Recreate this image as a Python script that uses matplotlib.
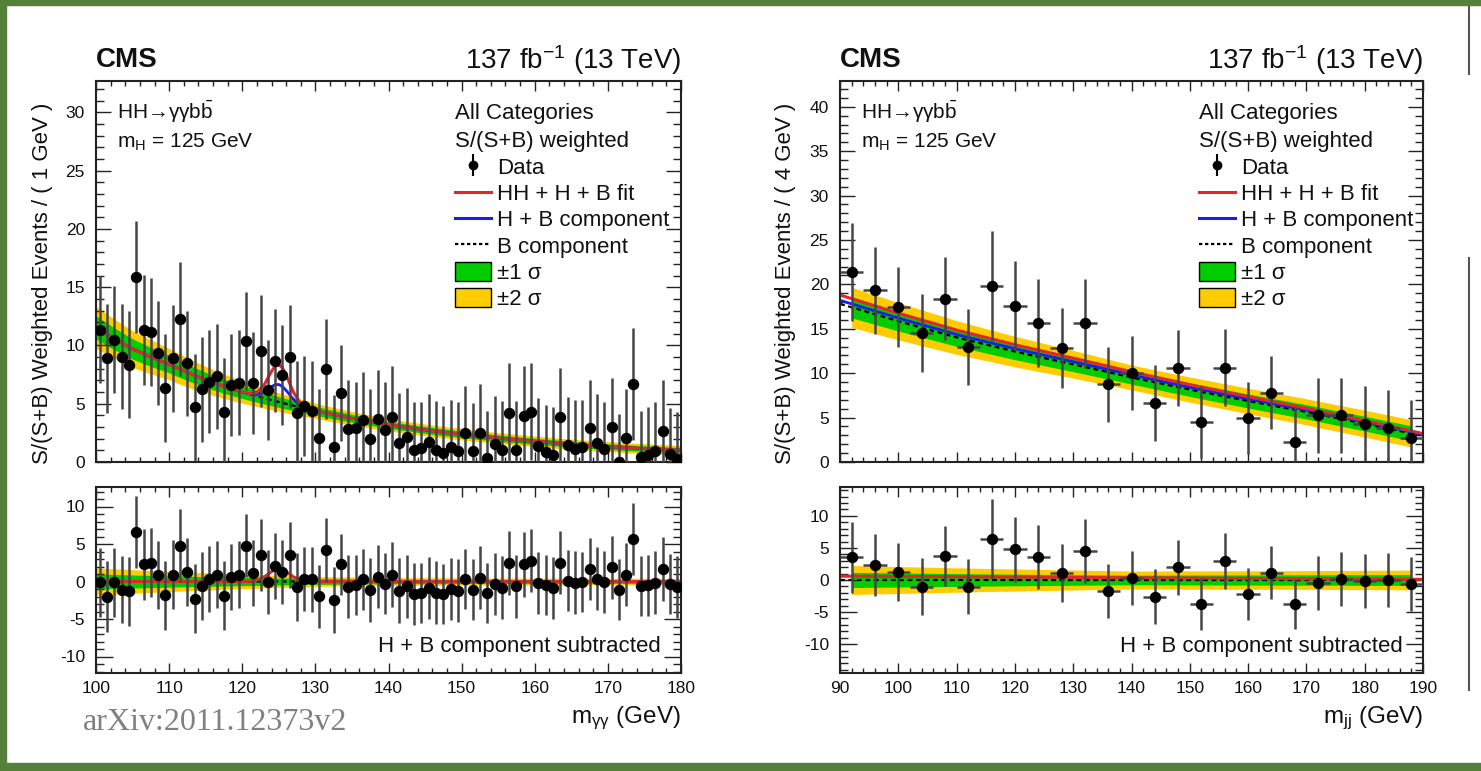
import numpy as np
import matplotlib
matplotlib.use("Agg")
import matplotlib.pyplot as plt
from matplotlib.ticker import MultipleLocator
from matplotlib.patches import Patch, Rectangle
from matplotlib.lines import Line2D

plt.rcParams['font.family'] = ['Liberation Sans', 'DejaVu Sans']
plt.rcParams['mathtext.fontset'] = 'custom'
plt.rcParams['mathtext.rm'] = 'Liberation Sans'
plt.rcParams['mathtext.it'] = 'Liberation Sans:italic'
plt.rcParams['mathtext.bf'] = 'Liberation Sans:bold'
plt.rcParams['axes.unicode_minus'] = False

# ---------------- data: m_gamma_gamma (left) ----------------
mgg_centers = np.arange(100.5, 180.0, 1.0)
mgg_data = [11.35, 8.9, 10.5, 9.05, 8.34, 15.9, 11.35, 11.15, 9.35, 6.35,
            8.9, 12.27, 8.48, 4.7, 6.25, 6.9, 7.34, 4.33, 6.6, 6.8,
            10.4, 6.8, 9.5, 6.2, 8.7, 7.5, 9.05, 4.2, 4.8, 4.4,
            2.03, 7.97, 1.32, 5.9, 2.8, 2.9, 3.6, 2.0, 3.66, 2.75,
            3.9, 1.6, 2.12, 1.03, 1.17, 1.75, 1.03, 0.8, 1.26, 0.97,
            2.52, 0.97, 2.52, 0.37, 1.55, 1.03, 4.18, 1.03, 3.95, 4.33,
            1.38, 0.89, 0.6, 3.84, 1.46, 1.09, 1.32, 2.9, 1.6, 1.09,
            3.04, 0.03, 2.03, 6.68, 0.4, 0.6, 0.95, 2.7, 0.66, 0.23]
mgg_err = [4.6, 4.7, 4.6, 4.5, 4.6, 4.8, 4.7, 4.6, 4.5, 4.6,
           4.6, 4.9, 4.5, 4.6, 4.5, 4.4, 4.5, 4.6, 4.4, 4.5,
           4.2, 4.4, 4.8, 4.3, 4.4, 4.3, 4.4, 4.5, 4.3, 4.3,
           4.2, 4.3, 4.4, 4.1, 4.2, 4.0, 4.1, 4.3, 4.2, 4.1,
           4.3, 4.3, 4.2, 4.1, 4.0, 4.1, 4.2, 4.0, 4.1, 4.2,
           4.0, 4.1, 4.2, 4.0, 4.1, 4.2, 4.3, 4.2, 4.3, 4.2,
           4.1, 4.0, 4.1, 4.2, 4.1, 4.2, 4.0, 4.1, 4.2, 4.1,
           4.2, 4.1, 4.2, 4.8, 4.0, 4.1, 4.2, 4.3, 4.0, 4.1]
mgg_resid = [-0.1, -2.0, -0.1, -1.07, -1.3, 6.6, 2.27, 2.5, 0.85, -1.82,
             0.93, 4.8, 1.24, -2.3, -0.62, 0.27, 0.93, -1.87, 0.62, 0.93,
             4.8, 1.15, 3.6, -0.05, 2.13, 1.24, 3.47, -0.7, 0.36, 0.27,
             -1.96, 4.18, -2.5, 2.27, -0.7, -0.53, 0.27, -1.16, 0.62, -0.27,
             0.93, -1.2, -0.62, -1.64, -1.51, -0.84, -1.51, -1.73, -0.98, -1.2,
             0.36, -1.07, 0.49, -1.51, -0.31, -0.84, 2.49, -0.62, 2.27, 2.8,
             -0.18, -0.53, -0.84, 2.49, 0.13, -0.18, -0.04, 1.69, 0.36, -0.09,
             1.91, -1.07, 0.93, 5.69, -0.62, -0.53, -0.18, 1.69, -0.27, -0.71]

# fit curves (left)
mgg_knots = [100, 105, 110, 115, 120, 125, 130, 135, 140, 145, 150, 155, 160, 165, 170, 175, 180]
mgg_bkg = [11.55, 9.7, 8.4, 7.05, 6.0, 5.15, 4.4, 3.75, 3.2, 2.75, 2.38, 2.05, 1.78, 1.52, 1.32, 1.15, 1.0]
peak_x = [120, 121, 122, 123, 123.5, 124, 124.5, 125, 125.5, 126, 126.5, 127, 128, 129, 130]
h_peak = [0, 0.03, 0.15, 0.54, 0.84, 1.16, 1.41, 1.5, 1.41, 1.16, 0.84, 0.54, 0.15, 0.03, 0]
hh_peak = [0, 0.03, 0.17, 0.61, 0.96, 1.32, 1.59, 1.7, 1.59, 1.32, 0.96, 0.61, 0.17, 0.03, 0]
mgg_band_x = [100, 110, 120, 130, 140, 160, 180]
mgg_band1 = [1.0, 0.75, 0.55, 0.38, 0.3, 0.26, 0.24]
mgg_band2 = [1.8, 1.35, 0.95, 0.65, 0.52, 0.45, 0.42]

# ---------------- data: m_jj (right) ----------------
mjj_centers = np.arange(92, 190, 4)
mjj_data = [21.4, 19.35, 17.5, 14.5, 18.4, 12.96, 19.8, 17.55, 15.66, 12.8,
            15.6, 8.75, 10.0, 6.65, 10.6, 4.5, 10.6, 4.96, 7.78, 2.25,
            5.26, 5.26, 4.33, 3.87, 2.75]
mjj_err = [5.5, 4.9, 4.5, 4.4, 4.7, 4.3, 6.2, 5.1, 5.0, 4.5,
           5.0, 4.2, 4.2, 4.3, 4.3, 4.1, 4.35, 4.1, 4.1, 3.9,
           4.2, 4.2, 4.2, 4.2, 4.2]
mjj_resid = [3.53, 2.34, 1.3, -1.04, 3.74, -1.04, 6.39, 4.78, 3.53, 1.14,
             4.57, -1.71, 0.26, -2.6, 1.97, -3.74, 2.96, -2.18, 1.14, -3.79,
             -0.42, 0.16, -0.1, 0.0, -0.62]

mjj_knots = [90, 100, 110, 120, 130, 140, 150, 160, 170, 180, 190]
mjj_hb = [18.2, 16.2, 14.35, 12.75, 11.3, 9.8, 8.4, 7.1, 5.85, 4.5, 3.1]
mjj_b = [17.8, 15.85, 14.02, 12.43, 11.0, 9.52, 8.15, 6.87, 5.65, 4.32, 2.95]
mjj_hh = [0.6, 0.55, 0.5, 0.45, 0.4, 0.35, 0.3, 0.25, 0.2, 0.15, 0.1]
mjj_band_x = [90, 115, 140, 165, 190]
mjj_band1 = [1.2, 0.95, 0.75, 0.8, 0.85]
mjj_band2 = [2.3, 1.8, 1.4, 1.45, 1.55]

# ---------------- styling ----------------
W, H = 1481, 771
C_RED = '#e3262b'
C_BLUE = '#1c1cf0'
C_GREEN = '#00cc00'
C_YELLOW = '#ffcc00'
C_BAR = '#464646'
FRAME = '#55803a'
TXT = '#111111'

fig = plt.figure(figsize=(W / 100, H / 100), dpi=100)


def rect(x0, y0, x1, y1):
    return [x0 / W, 1 - y1 / H, (x1 - x0) / W, (y1 - y0) / H]


def fx(px):
    return px / W


def fy(py):
    return 1 - py / H


def style(ax, xmaj, ymaj, xmin_, ymin_, xlen, ylen, labels_x):
    ax.xaxis.set_major_locator(MultipleLocator(xmaj))
    ax.xaxis.set_minor_locator(MultipleLocator(xmin_))
    ax.yaxis.set_major_locator(MultipleLocator(ymaj))
    ax.yaxis.set_minor_locator(MultipleLocator(ymin_))
    ax.tick_params(axis='both', which='both', direction='in', top=True, right=True,
                   colors='#222222', width=1.0, labelsize=12.5, labelcolor=TXT)
    ax.tick_params(axis='x', which='major', length=xlen, pad=6)
    ax.tick_params(axis='x', which='minor', length=xlen * 0.5)
    ax.tick_params(axis='y', which='major', length=ylen, pad=8)
    ax.tick_params(axis='y', which='minor', length=ylen * 0.5)
    if not labels_x:
        ax.tick_params(axis='x', labelbottom=False)
    for s in ax.spines.values():
        s.set_linewidth(1.5)
        s.set_color('#222222')


def draw_panel(ax_top, ax_bot, centers, data, err, resid, xerr,
               xs, b, hb, red, hh, band_lo, band_hi, band1, band2,
               xlim, ylim_top, ylim_bot, ylabel, xlabel, legx, ylabx):
    # top bands
    m = (xs >= band_lo) & (xs <= band_hi)
    ax_top.fill_between(xs[m], (b - band2)[m], (b + band2)[m], color=C_YELLOW, lw=0, zorder=1)
    ax_top.fill_between(xs[m], (b - band1)[m], (b + band1)[m], color=C_GREEN, lw=0, zorder=1.1)
    ax_top.plot(xs, b, color='black', ls=(0, (2.2, 1.6)), lw=1.6, zorder=2)
    ax_top.plot(xs, hb, color=C_BLUE, lw=2.0, zorder=2.1)
    ax_top.plot(xs, red, color=C_RED, lw=2.2, zorder=2.2)
    ax_top.errorbar(centers, data, yerr=err, xerr=xerr, fmt='o', color='black', ms=7.2,
                    ecolor=C_BAR, elinewidth=1.8, capsize=0, zorder=4)
    ax_top.set_xlim(*xlim)
    ax_top.set_ylim(*ylim_top)
    ax_top.set_ylabel(ylabel, fontsize=16, color=TXT)
    ax_top.yaxis.set_label_coords(ylabx, 0.47)

    # bottom
    ax_bot.fill_between(xs[m], -band2[m], band2[m], color=C_YELLOW, lw=0, zorder=1)
    ax_bot.fill_between(xs[m], -band1[m], band1[m], color=C_GREEN, lw=0, zorder=1.1)
    ax_bot.plot(xs, np.zeros_like(xs), color='black', ls=(0, (2.2, 1.6)), lw=1.6, zorder=2)
    ax_bot.plot(xs, hh, color=C_RED, lw=2.2, zorder=2.2)
    ax_bot.errorbar(centers, resid, yerr=err, xerr=xerr, fmt='o', color='black', ms=7.2,
                    ecolor=C_BAR, elinewidth=1.8, capsize=0, zorder=4)
    ax_bot.set_xlim(*xlim)
    ax_bot.set_ylim(*ylim_bot)
    ax_bot.text(0.965, 0.145, 'H + B component subtracted', transform=ax_bot.transAxes,
                ha='right', va='center', fontsize=16, color=TXT)
    ax_bot.text(1.0, -0.245, xlabel, transform=ax_bot.transAxes, ha='right', va='center',
                fontsize=17.5, color=TXT)

    # annotations
    ax_top.text(0.036, 0.919, 'HH→γγb$\\bar{\\mathrm{b}}$', transform=ax_top.transAxes,
                ha='left', va='center', fontsize=15, color=TXT)
    ax_top.text(0.036, 0.84, r'm$_{\mathrm{H}}$ = 125 GeV', transform=ax_top.transAxes,
                ha='left', va='center', fontsize=15, color=TXT)

    # legend
    hdata = ax_top.errorbar([np.nan], [np.nan], yerr=[1.0], fmt='o', color='black', ms=6,
                            ecolor='black', elinewidth=1.5, capsize=0)
    handles = [hdata,
               Line2D([], [], color=C_RED, lw=2.2),
               Line2D([], [], color=C_BLUE, lw=2.2),
               Line2D([], [], color='black', lw=1.6, ls=(0, (1.5, 1.2))),
               Patch(facecolor=C_GREEN, edgecolor='black', lw=1.0),
               Patch(facecolor=C_YELLOW, edgecolor='black', lw=1.0)]
    labels = ['Data', 'HH + H + B fit', 'H + B component', 'B component',
              '±1 σ', '±2 σ']
    leg = ax_top.legend(handles, labels, title='All Categories\nS/(S+B) weighted',
                        loc='upper left', bbox_to_anchor=(legx, 0.942), frameon=False,
                        fontsize=16, title_fontsize=16, handlelength=1.6, handleheight=0.9,
                        handletextpad=0.3, labelspacing=0.2, borderpad=0.0,
                        borderaxespad=0.0, alignment='left')
    for t in leg.get_texts():
        t.set_color(TXT)
    leg.get_title().set_color(TXT)
    leg.get_title().set_linespacing(1.45)


# ---------------- left panels ----------------
axLt = fig.add_axes(rect(96, 81, 681, 462))
axLb = fig.add_axes(rect(96, 487, 681, 673))
xs_l = np.linspace(100, 180, 1601)
b_l = np.exp(np.interp(xs_l, mgg_knots, np.log(mgg_bkg)))
hpk = np.interp(xs_l, peak_x, h_peak, left=0, right=0)
hhpk = np.interp(xs_l, peak_x, hh_peak, left=0, right=0)
hb_l = b_l + hpk
red_l = hb_l + hhpk
b1_l = np.interp(xs_l, mgg_band_x, mgg_band1)
b2_l = np.interp(xs_l, mgg_band_x, mgg_band2)
draw_panel(axLt, axLb, mgg_centers, mgg_data, mgg_err, mgg_resid, 0.5,
           xs_l, b_l, hb_l, red_l, hhpk, 100, 180, b1_l, b2_l,
           (100, 180), (0, 32.7), (-12.2, 12.6),
           'S/(S+B) Weighted Events / ( 1 GeV )',
           r'm$_{\mathrm{γγ}}$ (GeV)', 0.614, -0.073)
style(axLt, 10, 5, 2, 1, 7, 11, False)
style(axLb, 10, 5, 2, 1, 7, 12, True)

# ---------------- right panels ----------------
axRt = fig.add_axes(rect(840, 81, 1423, 462))
axRb = fig.add_axes(rect(840, 487, 1423, 673))
xs_r = np.linspace(90, 190, 1001)
b_r = np.interp(xs_r, mjj_knots, mjj_b)
hb_r = np.interp(xs_r, mjj_knots, mjj_hb)
hh_r = np.interp(xs_r, mjj_knots, mjj_hh)
red_r = hb_r + hh_r
b1_r = np.interp(xs_r, mjj_band_x, mjj_band1)
b2_r = np.interp(xs_r, mjj_band_x, mjj_band2)
draw_panel(axRt, axRb, mjj_centers, mjj_data, mjj_err, mjj_resid, 2.0,
           xs_r, b_r, hb_r, red_r, hh_r, 92, 188, b1_r, b2_r,
           (90, 190), (0, 42.9), (-14.5, 14.5),
           'S/(S+B) Weighted Events / ( 4 GeV )',
           r'm$_{\mathrm{jj}}$ (GeV)', 0.616, -0.076)
style(axRt, 10, 5, 2, 1, 7, 11, False)
style(axRb, 10, 5, 2, 1, 7, 12, True)

# ---------------- headers ----------------
for x0, x1 in [(96, 681), (840, 1423)]:
    fig.text(fx(x0), fy(60), 'CMS', fontsize=20, fontweight='bold', ha='left', va='center',
             color=TXT)
    fig.text(fx(x1), fy(60), r'137 fb$^{\mathregular{-1}}$ (13 TeV)', fontsize=20, ha='right',
             va='center', color=TXT)

fig.text(fx(83), fy(722), 'arXiv:2011.12373v2', family='Liberation Serif', fontsize=23,
         color='#808080', ha='left', va='center')

# ---------------- frame ----------------
fig.patches.append(Rectangle((0, fy(5)), 1, 5 / H, transform=fig.transFigure,
                             color=FRAME, zorder=10))
fig.patches.append(Rectangle((0, 0), 6 / W, 1, transform=fig.transFigure,
                             color=FRAME, zorder=10))
fig.patches.append(Rectangle((0, 0), 1, 8 / H, transform=fig.transFigure,
                             color=FRAME, zorder=10))
fig.lines.append(Line2D([fx(1469), fx(1469)], [fy(6), fy(74)], transform=fig.transFigure,
                        color='#555555', lw=1.5))
fig.lines.append(Line2D([fx(1469), fx(1469)], [fy(258), fy(690)], transform=fig.transFigure,
                        color='#555555', lw=1.5))

fig.savefig('out.png', dpi=100)
